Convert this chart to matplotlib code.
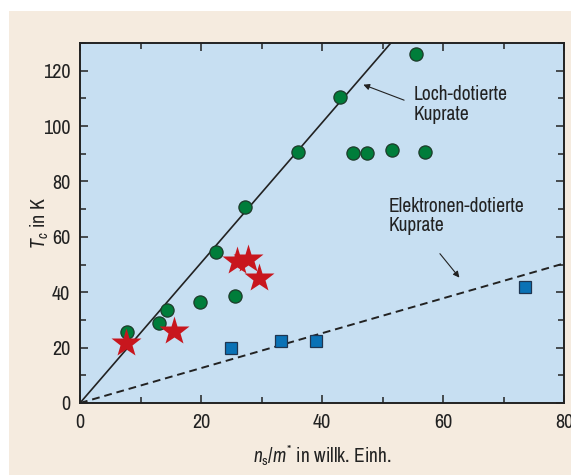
import matplotlib
matplotlib.use("Agg")
import matplotlib.pyplot as plt
import numpy as np
from matplotlib.patches import Rectangle
from matplotlib.ticker import MultipleLocator

plt.rcParams['font.family'] = ['Archivo Narrow', 'DejaVu Sans']
plt.rcParams['mathtext.fontset'] = 'custom'
plt.rcParams['mathtext.rm'] = 'Archivo Narrow'
plt.rcParams['mathtext.it'] = 'Archivo Narrow:italic'

# Loch-dotierte Kuprate (grüne Kreise)
loch_x = [7.7, 13.1, 14.4, 19.9, 22.4, 25.6, 27.2, 36.0, 42.9, 55.5, 45.2, 47.5, 51.6, 57.1]
loch_y = [25.8, 28.9, 33.5, 36.3, 54.6, 38.8, 70.8, 90.6, 110.5, 126.1, 90.2, 90.2, 91.4, 90.8]

# Sterne
stern_x = [7.6, 15.5, 26.0, 27.7, 29.6]
stern_y = [21.8, 26.0, 51.3, 51.9, 45.1]

# Elektronen-dotierte Kuprate (blaue Quadrate)
elek_x = [25.0, 33.3, 39.0, 73.6]
elek_y = [19.9, 22.3, 22.5, 41.8]

# Geraden durch den Ursprung
steigung_loch = 2.53
steigung_elek = 0.63

fig = plt.figure(figsize=(5.71, 4.75), dpi=100)
fig.patch.set_facecolor('white')
fig.add_artist(Rectangle((9 / 571, 0), 1, 1 - 11 / 475, transform=fig.transFigure,
                         facecolor='#f5ebdf', edgecolor='none', zorder=-10))

ax = fig.add_axes([80 / 571, 1 - 403 / 475, 484 / 571, 360 / 475])
ax.set_facecolor('#c7dff2')

xs = np.array([0, 80])
ax.plot(xs, steigung_loch * xs, color='#222222', lw=1.2, zorder=2)
ax.plot(xs, steigung_elek * xs, color='#222222', lw=1.4, ls=(0, (4, 2.5)), zorder=2)

ax.plot(loch_x, loch_y, 'o', ms=9.5, mfc='#007d3a', mec='#1d3b2a', mew=0.9, zorder=3)
ax.plot(elek_x, elek_y, 's', ms=8, mfc='#0a72b6', mec='#1f3550', mew=0.9, zorder=3)
ax.plot(stern_x, stern_y, '*', ms=22, mfc='#c8161e', mec='none', zorder=4)

ax.annotate('', xy=(46.4, 115.3), xytext=(54.0, 109.0),
            arrowprops=dict(arrowstyle='-|>', color='#222222', lw=0.8, mutation_scale=9))
ax.text(55.2, 114.8, 'Loch-dotierte\nKuprate', fontsize=14, va='top', ha='left',
        color='#222222', linespacing=1.05)

ax.annotate('', xy=(63.0, 44.5), xytext=(59.2, 54.7),
            arrowprops=dict(arrowstyle='-|>', color='#222222', lw=0.8, mutation_scale=9))
ax.text(51.0, 74.5, 'Elektronen-dotierte\nKuprate', fontsize=14, va='top', ha='left',
        color='#222222', linespacing=1.05)

ax.set_xlim(0, 80)
ax.set_ylim(0, 130)
ax.xaxis.set_major_locator(MultipleLocator(20))
ax.xaxis.set_minor_locator(MultipleLocator(10))
ax.yaxis.set_major_locator(MultipleLocator(20))
ax.yaxis.set_minor_locator(MultipleLocator(10))
ax.tick_params(which='both', direction='in', top=True, right=True, width=1.1,
               color='#222222', labelcolor='#222222', labelsize=14.5, pad=7)
ax.tick_params(which='major', length=6)
ax.tick_params(which='minor', length=4.5)
for s in ax.spines.values():
    s.set_linewidth(1.4)
    s.set_color('#222222')

ax.set_xlabel(r'$n_\mathrm{s}/m^{*}$ in willk. Einh.', fontsize=14, color='#222222', labelpad=8)
ax.set_ylabel(r'$T_c$ in K', fontsize=14.5, color='#222222', labelpad=-6)

fig.savefig('out.png', dpi=100, facecolor=fig.get_facecolor())
